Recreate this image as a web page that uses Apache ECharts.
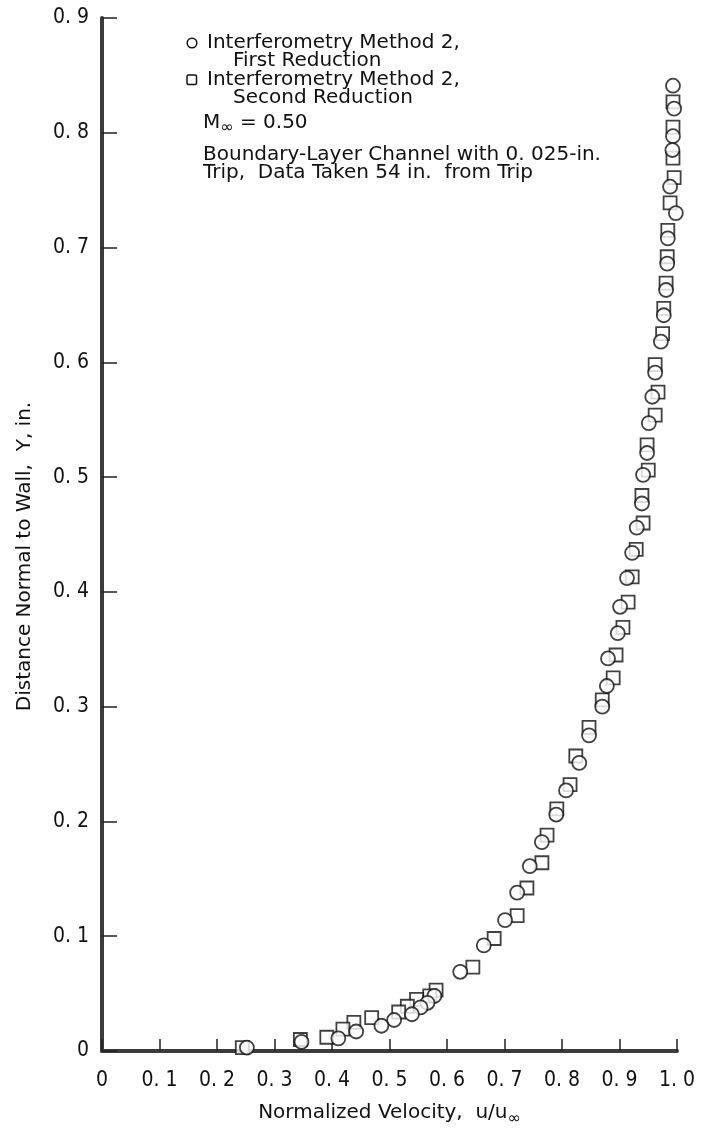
<!DOCTYPE html>
<html>
<head>
<meta charset="utf-8">
<script src="https://cdn.jsdelivr.net/npm/echarts@6/dist/echarts.min.js"></script>
<style>
  html, body { margin: 0; padding: 0; background: #fff; }
  #chart { width: 701px; height: 1138px; }
</style>
</head>
<body>
<div id="chart"></div>
<script>
// u/u_inf, Y (in.)
const firstReduction = [
  [0.993, 0.841], [0.995, 0.821], [0.993, 0.797], [0.992, 0.785], [0.988, 0.753],
  [0.998, 0.730], [0.984, 0.708], [0.983, 0.686], [0.981, 0.663], [0.977, 0.641],
  [0.972, 0.618], [0.962, 0.591], [0.957, 0.570], [0.951, 0.547], [0.948, 0.521],
  [0.941, 0.502], [0.939, 0.477], [0.930, 0.456], [0.922, 0.434], [0.913, 0.412],
  [0.901, 0.387], [0.897, 0.364], [0.880, 0.342], [0.878, 0.318], [0.870, 0.300],
  [0.847, 0.275], [0.830, 0.251], [0.807, 0.227], [0.790, 0.206], [0.765, 0.182],
  [0.744, 0.161], [0.722, 0.138], [0.701, 0.114], [0.664, 0.092], [0.623, 0.069],
  [0.578, 0.048], [0.566, 0.042], [0.554, 0.038], [0.539, 0.032], [0.508, 0.027],
  [0.486, 0.022], [0.442, 0.017], [0.411, 0.011], [0.347, 0.008], [0.252, 0.003]
]
const secondReduction = [
  [0.993, 0.827], [0.993, 0.805], [0.993, 0.778], [0.995, 0.761], [0.988, 0.739],
  [0.984, 0.715], [0.983, 0.692], [0.981, 0.669], [0.977, 0.647], [0.975, 0.625],
  [0.962, 0.598], [0.967, 0.574], [0.962, 0.554], [0.948, 0.528], [0.950, 0.506],
  [0.939, 0.484], [0.941, 0.460], [0.929, 0.437], [0.922, 0.413], [0.915, 0.391],
  [0.906, 0.369], [0.894, 0.345], [0.889, 0.325], [0.870, 0.306], [0.847, 0.282],
  [0.824, 0.257], [0.814, 0.232], [0.791, 0.211], [0.774, 0.188], [0.765, 0.164],
  [0.739, 0.142], [0.722, 0.118], [0.682, 0.098], [0.645, 0.073], [0.581, 0.053],
  [0.570, 0.048], [0.547, 0.045], [0.531, 0.039], [0.516, 0.034], [0.469, 0.029],
  [0.438, 0.025], [0.419, 0.019], [0.391, 0.012], [0.345, 0.010], [0.244, 0.003]
]
const xTickLabels = ['0', '0. 1', '0. 2', '0. 3', '0. 4', '0. 5', '0. 6', '0. 7', '0. 8', '0. 9', '1. 0']
const yTickLabels = ['0', '0. 1', '0. 2', '0. 3', '0. 4', '0. 5', '0. 6', '0. 7', '0. 8', '0. 9']

const NARROW = "'DejaVu Sans Condensed', 'Liberation Sans Narrow', 'DejaVu Sans', sans-serif"
const FONT = "'DejaVu Sans', 'Liberation Sans', sans-serif"
const AXIS = '#3c3c3c'
const INK = '#111'

const chart = echarts.init(document.getElementById('chart'))

// legend / annotation lines, placed by their left edge and vertical middle
const note = (x, y, text) => ({
  type: 'text', x: x, y: y,
  style: { text: text, font: '20px ' + FONT, fill: INK, verticalAlign: 'middle' }
})

const option = {
  animation: false,
  backgroundColor: '#fff',
  grid: { left: 102, right: 24, top: 18, bottom: 87 },
  xAxis: {
    type: 'value',
    min: 0, max: 1.0, interval: 0.1,
    name: 'Normalized Velocity,  u/u{sub|∞}',
    nameLocation: 'middle',
    nameGap: 48,
    nameTextStyle: {
      fontFamily: FONT, fontSize: 20, color: INK,
      rich: { sub: { fontFamily: FONT, fontSize: 16, color: INK, padding: [12, 0, 0, 0] } }
    },
    axisLine: { show: true, lineStyle: { color: AXIS, width: 4 } },
    axisTick: { show: true, inside: true, length: 12, lineStyle: { color: '#222', width: 1.5 } },
    axisLabel: {
      margin: 19, fontFamily: NARROW, fontSize: 21, color: INK,
      formatter: v => xTickLabels[Math.round(v * 10)]
    },
    splitLine: { show: false }
  },
  yAxis: {
    type: 'value',
    min: 0, max: 0.9, interval: 0.1,
    name: 'Distance Normal to Wall,  Y, in.',
    nameLocation: 'middle',
    nameRotate: 90,
    nameGap: 67,
    nameTextStyle: { fontFamily: FONT, fontSize: 20, color: INK, padding: [0, 44, 0, 0] },
    axisLine: { show: true, lineStyle: { color: AXIS, width: 4 } },
    axisTick: { show: true, inside: true, length: 15, lineStyle: { color: '#222', width: 1.5 } },
    axisLabel: {
      margin: 13, fontFamily: NARROW, fontSize: 21, color: INK,
      formatter: v => yTickLabels[Math.round(v * 10)]
    },
    splitLine: { show: false }
  },
  series: [
    {
      name: 'Interferometry Method 2, Second Reduction',
      type: 'scatter',
      symbol: 'rect',
      symbolSize: 13,
      clip: false,
      itemStyle: { color: '#fff', borderColor: INK, borderWidth: 1.8 },
      data: secondReduction
    },
    {
      name: 'Interferometry Method 2, First Reduction',
      type: 'scatter',
      symbol: 'circle',
      symbolSize: 14,
      clip: false,
      itemStyle: { color: '#fff', borderColor: INK, borderWidth: 1.8 },
      data: firstReduction
    }
  ],
  graphic: [
    { type: 'circle', shape: { cx: 192, cy: 43, r: 4.8 }, style: { fill: '#fff', stroke: INK, lineWidth: 1.5 } },
    { type: 'rect', shape: { x: 187, y: 75, width: 9.5, height: 9.5, r: 1.5 }, style: { fill: '#fff', stroke: INK, lineWidth: 1.5 } },
    note(207, 43, 'Interferometry Method 2,'),
    note(233, 61, 'First Reduction'),
    note(207, 80, 'Interferometry Method 2,'),
    note(233, 98, 'Second Reduction'),
    {
      type: 'text', x: 203, y: 123,
      style: {
        text: '{m|M}{s|∞}{m| = 0.50}',
        verticalAlign: 'middle',
        rich: {
          m: { font: '20px ' + FONT, fill: INK },
          s: { font: '16px ' + FONT, fill: INK, padding: [10, 0, 0, 0] }
        }
      }
    },
    note(203, 155, 'Boundary-Layer Channel with 0. 025-in.'),
    note(203, 173, 'Trip,  Data Taken 54 in.  from Trip')
  ]
}

chart.setOption(option)
window.addEventListener('resize', () => chart.resize())
</script>
</body>
</html>
